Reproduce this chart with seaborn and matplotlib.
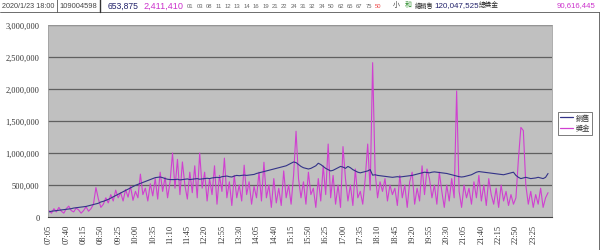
import matplotlib
matplotlib.use("Agg")
import matplotlib.pyplot as plt
import matplotlib.ticker as mticker
from matplotlib.lines import Line2D
import seaborn as sns
import pandas as pd

# ---- data -------------------------------------------------------------
times = pd.date_range("2020-01-23 07:05", "2020-01-23 23:55", freq="5min").strftime("%H:%M").tolist()

sales = [
    80000, 90000, 95000, 100000, 105000, 110000, 115000, 120000, 125000, 130000,
    140000, 145000, 150000, 155000, 160000, 165000, 175000, 185000, 195000, 205000,
    215000, 235000, 245000, 260000, 275000, 295000, 315000, 335000, 355000, 375000,
    395000, 415000, 435000, 455000, 475000, 495000, 510000, 525000, 540000, 555000,
    570000, 585000, 600000, 615000, 620000, 625000, 615000, 600000, 590000, 585000,
    585000, 585000, 590000, 580000, 585000, 590000, 595000, 585000, 590000, 595000,
    600000, 590000, 595000, 600000, 605000, 600000, 610000, 615000, 620000, 615000,
    630000, 635000, 640000, 630000, 625000, 640000, 650000, 645000, 650000, 655000,
    650000, 655000, 660000, 665000, 680000, 690000, 700000, 710000, 720000, 730000,
    740000, 750000, 760000, 770000, 780000, 790000, 800000, 820000, 840000, 860000,
    850000, 820000, 790000, 770000, 760000, 750000, 760000, 780000, 800000, 840000,
    820000, 790000, 760000, 740000, 720000, 730000, 750000, 770000, 790000, 780000,
    760000, 790000, 770000, 740000, 720000, 700000, 690000, 700000, 710000, 720000,
    740000, 653875, 660000, 650000, 645000, 640000, 635000, 630000, 625000, 620000,
    625000, 630000, 625000, 630000, 635000, 640000, 645000, 650000, 660000, 670000,
    680000, 690000, 700000, 695000, 690000, 700000, 705000, 700000, 695000, 690000,
    685000, 680000, 670000, 660000, 650000, 640000, 630000, 625000, 630000, 640000,
    650000, 660000, 680000, 700000, 710000, 705000, 700000, 695000, 690000, 685000,
    680000, 675000, 670000, 665000, 660000, 670000, 680000, 690000, 700000, 650000,
    620000, 600000, 610000, 620000, 610000, 600000, 605000, 610000, 620000, 610000,
    600000, 620000, 680000,
]

prize = [
    100000, 60000, 130000, 80000, 150000, 90000, 60000, 130000, 170000, 100000,
    80000, 140000, 110000, 60000, 100000, 160000, 90000, 130000, 200000, 460000,
    280000, 150000, 200000, 300000, 220000, 350000, 250000, 420000, 300000, 380000,
    250000, 430000, 310000, 480000, 260000, 400000, 300000, 670000, 350000, 450000,
    250000, 520000, 330000, 600000, 280000, 700000, 400000, 620000, 300000, 550000,
    1000000, 450000, 900000, 350000, 860000, 500000, 280000, 700000, 380000, 800000,
    300000, 1000000, 450000, 700000, 250000, 600000, 350000, 800000, 200000, 650000,
    400000, 920000, 300000, 550000, 180000, 650000, 300000, 500000, 250000, 810000,
    350000, 550000, 200000, 480000, 300000, 700000, 250000, 855000, 300000, 500000,
    150000, 600000, 220000, 450000, 180000, 720000, 300000, 500000, 200000, 650000,
    1340000, 600000, 300000, 550000, 200000, 700000, 350000, 450000, 150000, 600000,
    250000, 800000, 350000, 1140000, 300000, 650000, 200000, 500000, 150000, 1100000,
    600000, 250000, 500000, 180000, 750000, 300000, 400000, 200000, 600000, 1140000,
    420000, 2411410, 700000, 300000, 550000, 400000, 600000, 250000, 500000, 350000,
    450000, 180000, 650000, 300000, 500000, 150000, 550000, 700000, 200000, 450000,
    250000, 800000, 350000, 750000, 600000, 300000, 500000, 200000, 700000, 400000,
    150000, 500000, 250000, 600000, 300000, 1970000, 400000, 150000, 500000, 300000,
    450000, 200000, 550000, 300000, 650000, 250000, 500000, 180000, 600000, 350000,
    200000, 450000, 150000, 500000, 250000, 400000, 180000, 350000, 200000, 300000,
    900000, 1400000, 1350000, 500000, 200000, 400000, 150000, 350000, 200000, 450000,
    150000, 300000, 380000,
]

series_names = ["銷售", "獎金"]
y_ticks = [0, 500000, 1000000, 1500000, 2000000, 2500000, 3000000]

header_date = "2020/1/23 18:00"
header_draw = "109004598"
header_sales = "653,875"
header_prize = "2,411,410"
header_numbers = ["01", "03", "08", "11", "12", "13", "14", "16", "19", "21",
                  "22", "24", "31", "32", "34", "50", "62", "65", "67", "75"]
header_super = "50"
header_size = "小"
header_he = "和"
total_sales_label = "總銷售"
total_sales = "120,047,525"
total_prize_label = "總獎金"
total_prize = "90,616,445"

# ---- build ------------------------------------------------------------
df = pd.DataFrame({"idx": list(range(len(times))), "time": times,
                   series_names[0]: sales, series_names[1]: prize})
long = df.melt(id_vars=["idx", "time"], value_vars=series_names,
               var_name="series", value_name="value")

sns.set_theme(style="white")
CJK = ["Liberation Sans", "Noto Sans CJK TC", "DejaVu Sans"]
plt.rcParams["font.family"] = CJK

W, H = 600, 251
fig = plt.figure(figsize=(W / 100, H / 100), dpi=100)
fig.patch.set_facecolor("white")
ax = fig.add_axes([48 / W, 1 - 218 / H, 504 / W, 192 / H])
ax.set_facecolor("#C0C0C0")

palette = {series_names[0]: "#333388", series_names[1]: "#D040D0"}
sns.lineplot(data=long, x="idx", y="value", hue="series", palette=palette,
             hue_order=[series_names[1], series_names[0]],
             linewidth=0.8, ax=ax, legend=False, sort=False)

ax.set_xlim(-0.4, len(times) + 0.6)
ax.set_ylim(0, 3000000)
ax.set_yticks(y_ticks)
ax.yaxis.set_major_formatter(mticker.FuncFormatter(lambda v, p: f"{int(v):,}"))
ax.set_xticks(list(range(0, len(times), 7)))
ax.set_xticklabels(times[::7], rotation=90)
ax.set_xticks(list(range(len(times))), minor=True)
ax.set_xlabel("")
ax.set_ylabel("")

for y in y_ticks[1:]:
    ax.axhline(y, color="#606060", linewidth=0.9, zorder=0.5)

ax.tick_params(axis="y", which="both", length=0, labelsize=6, pad=6, colors="#333333")
ax.tick_params(axis="x", which="major", length=3, width=0.6, labelsize=6, pad=2,
               colors="#333333", direction="out")
ax.tick_params(axis="x", which="minor", length=2, width=0.5, direction="out", color="#333333")
for lab in ax.get_xticklabels() + ax.get_yticklabels():
    lab.set_fontfamily(["Liberation Serif"])

for s in ["top", "right", "left"]:
    ax.spines[s].set_color("#A0A0A0")
    ax.spines[s].set_linewidth(0.6)
ax.spines["bottom"].set_color("#404040")
ax.spines["bottom"].set_linewidth(0.8)

# legend
handles = [Line2D([0], [0], color=palette[n], lw=0.9) for n in series_names]
leg = fig.legend(handles, series_names, loc="upper left",
                 bbox_to_anchor=(554 / W, 1 - 109 / H), frameon=True,
                 handlelength=1.8, handletextpad=0.3,
                 borderpad=0.35, labelspacing=0.45, fancybox=False,
                 prop={"family": CJK, "size": 5.2})
leg.get_frame().set_edgecolor("#404040")
leg.get_frame().set_linewidth(0.6)
for t in leg.get_texts():
    t.set_color("#333333")

# header
def ftext(x, txt, color="#333333", size=6.0, **kw):
    fig.text(x / W, 1 - 6 / H, txt, color=color, fontsize=size, va="center",
             ha="left", family=CJK, **kw)

ftext(2, header_date, "#444444", 5.2)
ftext(59, header_draw, "#444444", 5.4)
ftext(108, header_sales, "#22226A", 6.2)
ftext(143, header_prize, "#CC33CC", 6.6)
x0 = 187
for i, n in enumerate(header_numbers):
    ftext(x0 + i * 9.4, n, "#666666", 4.2)
ftext(x0 + len(header_numbers) * 9.4, header_super, "#EE4444", 4.2)
ftext(393, header_size, "#444444", 5.0)
ftext(405, header_he, "#228822", 5.0)
ftext(415, total_sales_label, "#222222", 4.5)
ftext(434, total_sales, "#22226A", 5.8)
ftext(479, total_prize_label, "#222222", 4.8)
ftext(557, total_prize, "#CC33CC", 5.6)

fig.add_artist(Line2D([0, 1], [1 - 12.5 / H, 1 - 12.5 / H], color="#555555", lw=0.6))
fig.add_artist(Line2D([57 / W, 57 / W], [1 - 12.5 / H, 1], color="#555555", lw=0.6))
fig.add_artist(Line2D([100 / W, 100 / W], [1 - 12.5 / H, 1], color="#333333", lw=1.0))
fig.add_artist(Line2D([598.5 / W, 598.5 / W], [0, 1 - 12.5 / H], color="#555555", lw=0.6))

fig.savefig("out.png", dpi=100)
